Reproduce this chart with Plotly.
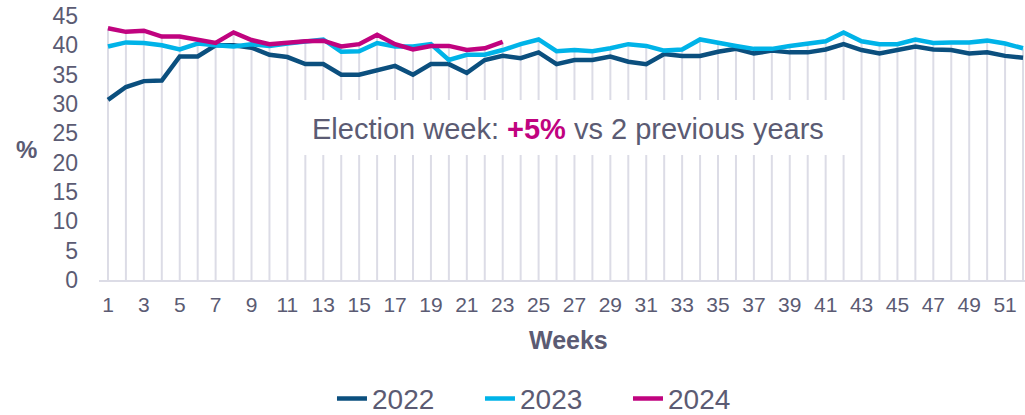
import plotly.graph_objects as go

weeks = list(range(1, 53))
tick_weeks = list(range(1, 53, 2))

y2022 = [30.7, 32.9, 33.9, 34.0, 38.1, 38.1, 40.0, 40.0, 39.6, 38.4,
         38.0, 36.8, 36.8, 35.0, 35.0, 35.8, 36.5, 35.0, 36.8, 36.8,
         35.3, 37.5, 38.2, 37.8, 38.8, 36.8, 37.5, 37.5, 38.1, 37.2,
         36.8, 38.5, 38.2, 38.2, 38.9, 39.4, 38.6, 39.1, 38.8, 38.8,
         39.3, 40.2, 39.2, 38.6, 39.2, 39.8, 39.3, 39.2, 38.6, 38.8,
         38.2, 37.9]
y2023 = [39.8, 40.5, 40.4, 40.0, 39.3, 40.3, 40.0, 39.8, 40.2, 39.9,
         40.3, 40.6, 41.0, 38.9, 39.0, 40.4, 39.8, 39.8, 40.2, 37.5,
         38.4, 38.4, 39.2, 40.2, 41.0, 39.0, 39.2, 39.0, 39.5, 40.2,
         39.9, 39.1, 39.3, 41.0, 40.4, 39.9, 39.4, 39.4, 39.9, 40.3,
         40.7, 42.2, 40.7, 40.2, 40.2, 41.0, 40.4, 40.5, 40.5, 40.8,
         40.3, 39.5]
y2024 = [42.9, 42.3, 42.5, 41.5, 41.5, 41.0, 40.4, 42.2, 40.9, 40.2,
         40.5, 40.7, 40.8, 39.8, 40.2, 41.8, 40.2, 39.3, 39.9, 39.9,
         39.2, 39.5, 40.6]

series = [("2022", y2022, "#0b4f7e"), ("2023", y2023, "#00b3e8"), ("2024", y2024, "#c0037f")]

TXT = "#5b5b73"
FONT = "Liberation Sans, Arial, sans-serif"

# drop lines from the highest value of each week down to the axis
drop_x, drop_y = [], []
for i, w in enumerate(weeks):
    vals = [s[1][i] for s in series if i < len(s[1])]
    drop_x += [w, w, None]
    drop_y += [0, max(vals), None]

fig = go.Figure()
fig.add_trace(go.Scatter(x=drop_x, y=drop_y, mode="lines",
                         line=dict(color="#dcdce6", width=2),
                         showlegend=False, hoverinfo="skip"))
for name, ys, col in series:
    fig.add_trace(go.Scatter(x=weeks[:len(ys)], y=ys, mode="lines", name=name,
                             line=dict(color=col, width=4.5)))

fig.add_shape(type="rect", xref="paper", yref="paper",
              x0=0.2138, x1=0.8186, y0=0.4735, y1=0.6818,
              fillcolor="white", line=dict(width=0), layer="above")
fig.add_annotation(xref="paper", yref="paper", x=0.5065, y=0.572,
                   xanchor="center", yanchor="middle", showarrow=False,
                   text="Election week: <b><span style='color:#c0037f'>+5%</span></b> vs 2 previous years",
                   font=dict(size=29, color=TXT, family=FONT))
fig.add_annotation(xref="paper", yref="paper", x=-0.078, y=0.495,
                   xanchor="center", yanchor="middle", showarrow=False,
                   text="<b>%</b>", font=dict(size=24, color=TXT, family=FONT))
fig.add_annotation(xref="paper", yref="paper", x=0.5065, y=-0.227,
                   xanchor="center", yanchor="middle", showarrow=False,
                   text="<b>Weeks</b>", font=dict(size=25, color=TXT, family=FONT))

fig.update_layout(
    width=1025, height=415,
    margin=dict(l=99, r=0, t=16, b=135, autoexpand=False),
    plot_bgcolor="white", paper_bgcolor="white",
    font=dict(family=FONT, color=TXT),
    xaxis=dict(range=[0.5, 52.11], tickvals=tick_weeks, ticktext=[str(t) for t in tick_weeks],
               showgrid=False, zeroline=False, showline=True, linecolor="#dcdce6", linewidth=2,
               automargin=False,
               ticks="", tickfont=dict(size=21, color=TXT), ticklabelstandoff=5),
    yaxis=dict(range=[0, 45], tickvals=list(range(0, 46, 5)), showgrid=False, zeroline=False,
               automargin=False,
               showline=False, ticks="", tickfont=dict(size=23, color=TXT), ticklabelstandoff=20),
    legend=dict(orientation="h", x=0.2516, xanchor="left", y=-0.45, yanchor="middle",
                font=dict(size=28, color=TXT), entrywidth=103, entrywidthmode="pixels"),
)

fig.write_html("out.html", config={"displayModeBar": False},
               post_script="document.body.style.margin='0px';")
